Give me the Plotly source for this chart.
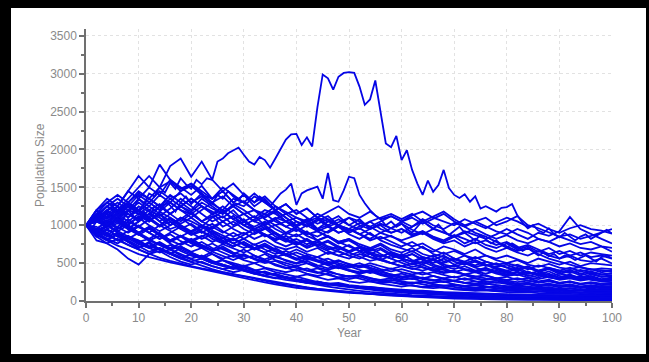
import plotly.graph_objects as go

# Simulated population trajectories: 1000 individuals at year 0, 100 years.
years_annual = list(range(0, 101))
years_biennial = list(range(0, 101, 2))

# Two trajectories recorded every year
run_peak = [
    1000, 1080, 1150, 1050, 1180, 1250, 1120, 1200, 1300, 1220,
    1350, 1280, 1420, 1380, 1500, 1430, 1560, 1480, 1620, 1540,
    1480, 1600, 1540, 1620, 1600, 1840, 1880, 1950, 1990, 2025,
    1930, 1840, 1800, 1900, 1860, 1760, 1880, 2000, 2130, 2200,
    2205, 2060, 2160, 2040, 2560, 2990, 2940, 2790, 2960, 3010,
    3020, 3010, 2830, 2590, 2660, 2910, 2520, 2080, 2030, 2180,
    1860, 1990, 1730, 1550, 1400, 1590, 1440, 1530, 1730, 1490,
    1400, 1360, 1410, 1310, 1380, 1220, 1250, 1220, 1180, 1230,
    1240, 1280, 1130, 1030, 960, 1000, 930, 900, 960, 880,
    840, 900, 850, 800, 850, 880, 820, 860, 900, 940,
    890,
]
run_second = [
    1000, 950, 1050, 1120, 1000, 1080, 1150, 1060, 1200, 1120,
    1050, 1180, 1100, 1250, 1200, 1320, 1260, 1180, 1300, 1380,
    1280, 1350, 1420, 1330, 1280, 1400, 1350, 1450, 1380, 1330,
    1420, 1360, 1300, 1380, 1330, 1250, 1330, 1420, 1470, 1550,
    1270, 1420, 1460, 1480, 1510, 1350, 1690, 1330, 1310, 1460,
    1640, 1620, 1400, 1290, 1200, 1130, 1080, 1000, 1050, 980,
    1020, 950, 900, 980, 1060, 1000, 950, 1010, 930, 870,
    920, 980, 900, 850, 800, 870, 820, 760, 800, 740,
    700, 760, 720, 660, 700, 650, 600, 640, 590, 620,
    560, 600, 580, 540, 570, 600, 560, 520, 580, 600,
    560,
]

# Remaining trajectories recorded every second year
run_a1 = [1000, 1120, 1250, 1180, 1300, 1420, 1350, 1500, 1580, 1450,
          1520, 1400, 1350, 1450, 1300, 1250, 1380, 1300, 1200, 1280,
          1150, 1220, 1100, 1180, 1250, 1150, 1100, 1180, 1080, 1120,
          1050, 1130, 1180, 1100, 1050, 1000, 1080, 1020, 960, 1040,
          1100, 1050, 980, 1020, 950, 900, 960, 1000, 950, 930, 890]
run_a2 = [1000, 1050, 980, 1100, 1200, 1150, 1080, 1250, 1300, 1200,
          1150, 1250, 1180, 1100, 1200, 1050, 1120, 1000, 1080, 1150,
          1050, 980, 1060, 1120, 1000, 950, 1030, 980, 900, 960,
          1020, 940, 880, 950, 900, 850, 920, 870, 820, 880,
          950, 880, 820, 900, 860, 920, 1110, 950, 880, 820, 760]
run_a3 = [1000, 1150, 1080, 1200, 1100, 1250, 1180, 1050, 1150, 1250,
          1180, 1300, 1220, 1150, 1250, 1320, 1200, 1150, 1250, 1180,
          1100, 1050, 1150, 1080, 1000, 1100, 1050, 980, 1050, 1120,
          1050, 1100, 1020, 1080, 1150, 1050, 980, 1050, 1100, 1000,
          1050, 1120, 1000, 960, 900, 850, 880, 820, 860, 900, 950]
run_a4 = [1000, 920, 1000, 1080, 950, 1050, 1150, 1100, 1000, 1100,
          1050, 980, 1100, 1180, 1080, 1000, 1080, 1150, 1050, 980,
          1050, 1000, 920, 980, 1050, 1100, 1000, 950, 1020, 960,
          900, 980, 1050, 960, 900, 850, 900, 950, 880, 820,
          870, 800, 760, 820, 780, 720, 760, 700, 680, 720, 650]
run_a5 = [1000, 1080, 1180, 1100, 1000, 1120, 1050, 1180, 1100, 1020,
          1100, 1000, 950, 1050, 1120, 1000, 950, 1020, 1100, 1050,
          980, 1050, 1100, 1000, 1080, 1000, 950, 1050, 1100, 1150,
          1080, 1150, 1050, 1120, 1180, 1080, 1000, 1050, 980, 920,
          880, 950, 900, 820, 780, 850, 800, 750, 780, 720, 700]
run_a6 = [1000, 1200, 1300, 1400, 1300, 1450, 1350, 1250, 1400, 1300,
          1200, 1350, 1250, 1150, 1280, 1200, 1100, 1200, 1150, 1050,
          1100, 1020, 950, 1050, 1000, 920, 980, 1050, 950, 900,
          950, 880, 920, 850, 800, 870, 820, 760, 800, 740,
          780, 700, 740, 680, 620, 660, 600, 640, 580, 600, 560]
run_a7 = [1000, 900, 980, 1050, 1150, 1080, 1200, 1280, 1150, 1250,
          1350, 1250, 1150, 1200, 1080, 1150, 1050, 1000, 1080, 980,
          920, 1000, 1080, 980, 900, 950, 880, 820, 900, 850,
          800, 850, 900, 820, 760, 800, 720, 780, 700, 650,
          700, 640, 600, 660, 600, 560, 600, 540, 520, 560, 495]
run_a8 = [1000, 1100, 1020, 1150, 1250, 1180, 1300, 1200, 1350, 1420,
          1300, 1380, 1280, 1200, 1350, 1300, 1200, 1100, 1180, 1050,
          1000, 1080, 950, 1000, 900, 950, 880, 800, 850, 780,
          720, 780, 700, 650, 720, 680, 620, 680, 600, 560,
          600, 550, 500, 560, 520, 480, 520, 460, 500, 480, 470]
run_b1 = [1000, 1150, 1300, 1250, 1450, 1350, 1500, 1400, 1600, 1480,
          1550, 1420, 1300, 1380, 1250, 1150, 1200, 1080, 1000, 1050,
          950, 880, 920, 850, 780, 820, 750, 700, 760, 680,
          640, 700, 620, 580, 640, 560, 520, 580, 520, 480,
          500, 460, 420, 470, 430, 400, 440, 390, 420, 380, 405]
run_b2 = [1000, 880, 950, 850, 920, 1000, 900, 820, 900, 980,
          880, 950, 1020, 920, 850, 900, 820, 880, 780, 720,
          780, 700, 750, 680, 720, 650, 700, 620, 580, 640,
          580, 620, 550, 600, 520, 560, 500, 540, 480, 450,
          480, 420, 460, 400, 430, 380, 410, 360, 390, 350, 370]
run_b3 = [1000, 1050, 1150, 1250, 1100, 1200, 1050, 1150, 1000, 1080,
          1180, 1050, 1120, 980, 1050, 950, 880, 950, 1000, 900,
          850, 920, 800, 850, 760, 800, 720, 680, 740, 650,
          600, 660, 580, 540, 600, 520, 480, 520, 460, 500,
          440, 400, 450, 380, 420, 360, 390, 340, 370, 320, 340]
run_b4 = [1000, 950, 870, 950, 1050, 980, 900, 1000, 1100, 1000,
          920, 1000, 900, 830, 900, 820, 900, 960, 850, 780,
          820, 750, 800, 720, 680, 740, 660, 620, 680, 600,
          560, 620, 540, 500, 560, 480, 520, 450, 480, 420,
          380, 420, 360, 390, 340, 310, 350, 300, 330, 290, 310]
run_b5 = [1000, 1100, 1200, 1080, 1180, 1300, 1200, 1120, 1220, 1350,
          1250, 1150, 1050, 1120, 1000, 1080, 950, 1000, 900, 820,
          880, 800, 740, 800, 720, 660, 720, 640, 600, 560,
          620, 540, 500, 560, 480, 450, 500, 440, 400, 430,
          380, 350, 390, 330, 360, 310, 340, 290, 320, 280, 290]
run_b6 = [1000, 930, 1000, 900, 820, 900, 980, 880, 800, 860,
          780, 850, 920, 830, 760, 820, 740, 800, 720, 680,
          720, 650, 700, 620, 660, 600, 560, 620, 540, 500,
          540, 480, 520, 460, 430, 470, 420, 390, 430, 380,
          350, 380, 330, 360, 310, 290, 320, 280, 300, 260, 270]
run_b7 = [1000, 1080, 980, 1100, 1250, 1150, 1050, 1180, 1300, 1200,
          1100, 1200, 1300, 1180, 1250, 1150, 1050, 1120, 1200, 1100,
          1000, 1080, 950, 900, 980, 880, 820, 900, 800, 740,
          700, 650, 720, 620, 580, 540, 600, 520, 480, 440,
          400, 440, 380, 350, 390, 330, 300, 330, 280, 260, 250]
run_b8 = [1000, 900, 820, 760, 850, 800, 720, 780, 700, 760,
          820, 740, 680, 750, 700, 640, 700, 760, 680, 620,
          680, 620, 580, 640, 600, 560, 620, 580, 540, 600,
          560, 520, 580, 540, 500, 550, 510, 470, 520, 480,
          440, 480, 430, 400, 440, 400, 370, 410, 380, 350, 360]
run_b9 = [1000, 1120, 1050, 950, 1020, 1100, 1000, 920, 1000, 1100,
          1000, 900, 980, 1050, 950, 880, 950, 850, 900, 820,
          760, 820, 740, 780, 700, 640, 700, 620, 580, 640,
          560, 520, 480, 540, 460, 420, 460, 400, 440, 380,
          350, 390, 340, 310, 350, 300, 330, 290, 320, 280, 300]
run_b10 = [1000, 1050, 1150, 1050, 950, 1050, 1150, 1250, 1150, 1050,
           1150, 1050, 980, 900, 980, 1050, 950, 880, 800, 860,
           780, 720, 780, 700, 650, 600, 650, 580, 540, 500,
           460, 500, 440, 400, 430, 380, 350, 380, 330, 300,
           320, 280, 300, 260, 280, 240, 260, 220, 240, 210, 230]
run_b11 = [1000, 950, 1050, 980, 900, 980, 1080, 1000, 920, 850,
           920, 1000, 930, 860, 800, 870, 950, 880, 820, 900,
           980, 900, 850, 920, 1000, 950, 880, 950, 1020, 960,
           1050, 980, 1080, 1000, 950, 1030, 980, 900, 850, 780,
           720, 660, 700, 620, 560, 520, 480, 440, 420, 400, 390]
run_b12 = [1000, 870, 800, 880, 780, 700, 780, 680, 620, 700,
           640, 580, 650, 600, 540, 600, 560, 520, 580, 540,
           500, 560, 520, 480, 530, 490, 450, 500, 460, 420,
           460, 430, 400, 440, 410, 380, 420, 390, 360, 400,
           370, 340, 380, 350, 320, 360, 330, 310, 350, 320, 330]
run_c1 = [1000, 900, 1000, 1100, 1000, 900, 820, 900, 800, 740,
          800, 720, 660, 720, 640, 600, 560, 620, 540, 500,
          460, 500, 440, 410, 450, 400, 370, 400, 350, 330,
          360, 320, 300, 330, 290, 270, 300, 260, 250, 270,
          240, 220, 240, 210, 230, 200, 220, 190, 210, 190, 200]
run_c2 = [1000, 1100, 1000, 920, 1000, 900, 960, 860, 780, 850,
          760, 700, 760, 680, 620, 680, 600, 550, 600, 530,
          490, 530, 470, 430, 470, 410, 380, 410, 360, 330,
          300, 330, 290, 270, 300, 260, 240, 260, 230, 250,
          220, 200, 220, 190, 210, 180, 200, 170, 190, 170, 180]
run_c3 = [1000, 950, 880, 800, 860, 780, 720, 680, 740, 660,
          600, 560, 620, 540, 500, 460, 500, 440, 410, 380,
          410, 360, 330, 360, 310, 290, 320, 280, 260, 280,
          250, 230, 250, 220, 200, 220, 190, 210, 180, 190,
          170, 180, 160, 170, 150, 160, 140, 150, 140, 160, 150]
run_c4 = [1000, 1150, 1050, 1180, 1300, 1200, 1100, 1000, 1080, 980,
          900, 980, 880, 800, 720, 780, 700, 640, 580, 620,
          560, 500, 460, 500, 440, 400, 360, 390, 340, 310,
          280, 300, 260, 240, 260, 220, 200, 220, 190, 170,
          180, 160, 170, 150, 140, 150, 130, 140, 120, 130, 120]
run_c5 = [1000, 880, 950, 850, 780, 700, 760, 680, 620, 560,
          620, 560, 500, 540, 480, 440, 400, 430, 380, 350,
          320, 350, 310, 280, 300, 260, 240, 260, 230, 210,
          190, 210, 180, 170, 180, 160, 150, 160, 140, 130,
          140, 130, 120, 130, 115, 120, 110, 105, 110, 100, 100]
run_c6 = [1000, 880, 800, 730, 680, 620, 580, 540, 510, 480,
          450, 420, 390, 360, 330, 300, 270, 245, 220, 195,
          175, 160, 145, 130, 118, 108, 100, 92, 85, 78,
          72, 66, 60, 55, 50, 46, 42, 38, 35, 32,
          30, 28, 26, 24, 22, 20, 18, 17, 16, 15, 14]
run_c7 = [1000, 920, 850, 900, 820, 750, 700, 640, 680, 600,
          550, 500, 460, 420, 450, 400, 360, 330, 300, 320,
          280, 250, 230, 210, 225, 200, 180, 165, 150, 140,
          130, 120, 110, 115, 100, 95, 88, 82, 78, 75,
          72, 70, 68, 65, 66, 63, 62, 60, 61, 60, 60]
run_c8 = [1000, 1080, 1000, 920, 850, 780, 820, 740, 680, 620,
          560, 600, 530, 480, 440, 400, 360, 390, 340, 300,
          270, 240, 260, 220, 200, 180, 165, 150, 135, 120,
          110, 100, 92, 85, 78, 72, 68, 62, 58, 55,
          52, 50, 48, 46, 45, 44, 43, 42, 41, 40, 40]
run_c9 = [1000, 1200, 1100, 1250, 1150, 1050, 1150, 1050, 950, 1000,
          900, 820, 880, 780, 720, 780, 700, 640, 700, 620,
          560, 600, 540, 500, 540, 480, 440, 470, 420, 390,
          420, 380, 350, 380, 340, 310, 340, 300, 280, 300,
          270, 250, 270, 240, 260, 230, 250, 220, 240, 210, 220]
run_c10 = [1000, 950, 1050, 1150, 1050, 1150, 1250, 1150, 1050, 950,
           1020, 920, 850, 780, 830, 750, 680, 720, 650, 600,
           540, 580, 520, 470, 430, 460, 410, 370, 400, 350,
           320, 290, 310, 270, 250, 270, 240, 220, 230, 210,
           190, 200, 180, 170, 180, 160, 170, 150, 165, 150, 160]
run_c11 = [1000, 850, 900, 800, 850, 760, 700, 760, 680, 720,
           650, 700, 620, 560, 600, 540, 500, 540, 470, 430,
           460, 400, 370, 400, 350, 320, 340, 300, 280, 300,
           260, 240, 260, 220, 200, 210, 190, 175, 185, 165,
           155, 160, 145, 150, 138, 145, 130, 138, 125, 135, 130]
run_c12 = [1000, 1050, 980, 1080, 1000, 900, 980, 880, 800, 860,
           780, 720, 660, 700, 620, 560, 600, 530, 480, 440,
           400, 430, 380, 340, 310, 330, 290, 260, 240, 250,
           220, 200, 185, 195, 170, 155, 145, 135, 140, 125,
           118, 112, 115, 105, 100, 102, 96, 92, 94, 90, 90]
run_c13 = [1000, 800, 760, 820, 740, 680, 620, 660, 580, 520,
           480, 520, 460, 420, 380, 410, 360, 330, 300, 280,
           260, 240, 255, 225, 205, 190, 175, 185, 165, 150,
           140, 130, 135, 120, 110, 105, 100, 95, 90, 88,
           85, 82, 80, 78, 76, 75, 73, 72, 71, 70, 70]
run_c14 = [1000, 1080, 1150, 1050, 960, 880, 800, 860, 760, 680,
           620, 560, 500, 540, 470, 420, 380, 340, 360, 310,
           270, 240, 210, 190, 170, 150, 135, 120, 108, 96,
           86, 78, 72, 66, 60, 55, 50, 47, 44, 41,
           39, 37, 36, 35, 34, 33, 32, 31, 31, 30, 30]
run_c15 = [1000, 1120, 1250, 1150, 1280, 1180, 1080, 980, 1050, 950,
           870, 920, 820, 760, 820, 740, 680, 740, 660, 600,
           640, 580, 530, 560, 500, 460, 500, 440, 400, 430,
           380, 350, 380, 330, 300, 320, 280, 300, 260, 240,
           250, 220, 240, 210, 225, 200, 215, 190, 205, 185, 190]
run_c16 = [1000, 980, 900, 980, 1080, 980, 900, 820, 880, 790,
           720, 780, 700, 640, 580, 620, 550, 500, 530, 470,
           430, 400, 430, 380, 350, 320, 340, 300, 270, 250,
           230, 245, 215, 195, 205, 180, 165, 175, 155, 145,
           138, 142, 130, 125, 128, 118, 122, 112, 115, 108, 110]
run_c17 = [1000, 920, 1000, 1080, 980, 880, 800, 740, 680, 720,
           640, 580, 520, 480, 440, 470, 410, 370, 340, 300,
           320, 280, 250, 230, 210, 190, 175, 160, 145, 135,
           125, 115, 105, 98, 90, 84, 78, 72, 68, 64,
           61, 58, 56, 55, 53, 52, 51, 51, 50, 50, 50]
run_c18 = [1000, 1100, 1250, 1350, 1250, 1400, 1300, 1450, 1350, 1250,
           1350, 1250, 1150, 1050, 1120, 1000, 920, 980, 880, 800,
           740, 800, 720, 660, 600, 640, 580, 530, 560, 500,
           460, 420, 450, 400, 370, 390, 350, 320, 340, 300,
           280, 300, 270, 250, 270, 240, 260, 230, 250, 230, 240]
run_c19 = [1000, 900, 820, 880, 800, 720, 650, 700, 620, 560,
           510, 460, 420, 380, 350, 320, 290, 260, 240, 215,
           195, 175, 160, 145, 130, 118, 106, 96, 86, 78,
           70, 63, 57, 52, 47, 43, 39, 36, 33, 31,
           29, 27, 26, 25, 24, 23, 22, 21, 21, 20, 20]
run_c20 = [1000, 1050, 1120, 1200, 1300, 1200, 1350, 1250, 1150, 1250,
           1150, 1050, 1150, 1250, 1150, 1050, 980, 1050, 950, 880,
           950, 860, 800, 860, 780, 720, 660, 700, 620, 560,
           500, 450, 480, 420, 380, 400, 350, 320, 300, 280,
           250, 230, 240, 210, 200, 210, 190, 180, 185, 170, 170]
run_c21 = [1000, 870, 950, 1030, 950, 870, 950, 870, 800, 860,
           800, 860, 780, 840, 760, 700, 750, 680, 620, 660,
           600, 540, 580, 520, 480, 440, 470, 420, 380, 350,
           320, 340, 300, 280, 260, 270, 240, 225, 230, 210,
           195, 185, 190, 175, 170, 160, 165, 150, 145, 140, 140]
run_c22 = [1000, 950, 870, 800, 740, 680, 620, 570, 530, 490,
           460, 430, 400, 380, 355, 330, 300, 280, 250, 230,
           200, 180, 160, 145, 130, 115, 100, 90, 80, 70,
           62, 55, 48, 42, 37, 33, 29, 26, 23, 20,
           18, 16, 15, 14, 13, 12, 11, 11, 10, 10, 10]
run_d1 = [1000, 1150, 1300, 1200, 1350, 1500, 1650, 1500, 1780, 1880,
          1640, 1840, 1600, 1450, 1550, 1400, 1300, 1380, 1250, 1150,
          1200, 1100, 1020, 1080, 980, 900, 960, 880, 820, 860,
          780, 720, 760, 680, 620, 660, 600, 560, 600, 540,
          500, 540, 480, 450, 490, 440, 420, 450, 410, 430, 420]
run_d2 = [1000, 1200, 1350, 1250, 1450, 1650, 1500, 1800, 1600, 1500,
          1400, 1520, 1350, 1450, 1300, 1400, 1250, 1350, 1200, 1280,
          1150, 1220, 1100, 1050, 1120, 1000, 1080, 950, 1000, 900,
          950, 860, 920, 840, 780, 850, 760, 820, 740, 700,
          760, 680, 720, 650, 700, 620, 660, 600, 640, 620, 600]
run_d3 = [1000, 1080, 1200, 1300, 1200, 1350, 1250, 1400, 1300, 1450,
          1550, 1450, 1350, 1500, 1400, 1300, 1420, 1300, 1200, 1100,
          1000, 1050, 920, 850, 780, 820, 720, 660, 700, 620,
          560, 520, 560, 480, 440, 470, 410, 380, 410, 360,
          330, 350, 310, 290, 320, 280, 300, 270, 290, 270, 280]
run_d4 = [1000, 850, 760, 680, 560, 480, 620, 700, 640, 580,
          520, 560, 500, 460, 420, 450, 400, 370, 340, 310,
          290, 270, 250, 230, 240, 210, 195, 180, 170, 160,
          150, 140, 132, 125, 118, 112, 106, 100, 96, 92,
          88, 85, 82, 80, 78, 76, 74, 72, 71, 70, 70]

biennial_runs = [
    run_a1, run_a2, run_a3, run_a4, run_a5, run_a6, run_a7, run_a8,
    run_b1, run_b2, run_b3, run_b4, run_b5, run_b6, run_b7, run_b8,
    run_b9, run_b10, run_b11, run_b12,
    run_c1, run_c2, run_c3, run_c4, run_c5, run_c6, run_c7, run_c8,
    run_c9, run_c10, run_c11, run_c12, run_c13, run_c14, run_c15,
    run_c16, run_c17, run_c18, run_c19, run_c20, run_c21, run_c22,
    run_d1, run_d2, run_d3, run_d4,
]

x_ticks = [0, 10, 20, 30, 40, 50, 60, 70, 80, 90, 100]
y_ticks = [0, 500, 1000, 1500, 2000, 2500, 3000, 3500]

LINE = dict(color="rgb(5,5,230)", width=1.8)
GREY_TEXT = "#8a8a8a"
AXIS_GREY = "#707070"
FONT = "Liberation Sans, Arial, sans-serif"

fig = go.Figure()
for run in biennial_runs:
    fig.add_trace(go.Scatter(x=years_biennial, y=run, mode="lines",
                             line=LINE, showlegend=False, hoverinfo="skip"))
for run in (run_second, run_peak):
    fig.add_trace(go.Scatter(x=years_annual, y=run, mode="lines",
                             line=LINE, showlegend=False, hoverinfo="skip"))

W, H = 649, 362
L, R, T, B = 86, 37, 29, 61
pw, ph = W - L - R, H - T - B


def px_x(px):
    return (px - L) / pw


def px_y(py):
    return (H - B - py) / ph


axis_common = dict(
    showline=True, linecolor=AXIS_GREY, linewidth=1.5,
    ticks="outside", ticklen=5, tickwidth=1.5, tickcolor=AXIS_GREY,
    showgrid=True, gridcolor="#e2e2e2", griddash="dot", gridwidth=1,
    zeroline=False,
    tickfont=dict(family=FONT, size=12, color=GREY_TEXT),
)

fig.update_xaxes(range=[0, 100], tickvals=x_ticks,
                 minor=dict(dtick=5, ticks="outside", ticklen=3, tickcolor=AXIS_GREY, showgrid=False),
                 **axis_common)
fig.update_yaxes(range=[0, 3590], tickvals=y_ticks,
                 minor=dict(dtick=250, ticks="outside", ticklen=3, tickcolor=AXIS_GREY, showgrid=False),
                 **axis_common)

fig.update_layout(
    width=W, height=H,
    margin=dict(l=L, r=R, t=T, b=B, pad=0),
    paper_bgcolor="black",
    plot_bgcolor="white",
    shapes=[dict(type="rect", xref="paper", yref="paper",
                 x0=px_x(11), x1=px_x(646), y0=px_y(354), y1=px_y(8),
                 fillcolor="white", line=dict(width=0), layer="below")],
    annotations=[
        dict(text="Year", xref="paper", yref="paper", x=0.5, y=px_y(333),
             xanchor="center", yanchor="middle", showarrow=False,
             font=dict(family=FONT, size=12, color=GREY_TEXT)),
        dict(text="Population Size", xref="paper", yref="paper", x=px_x(40), y=0.5,
             xanchor="center", yanchor="middle", showarrow=False, textangle=-90,
             font=dict(family=FONT, size=12, color=GREY_TEXT)),
    ],
)

fig.write_html("out.html")
